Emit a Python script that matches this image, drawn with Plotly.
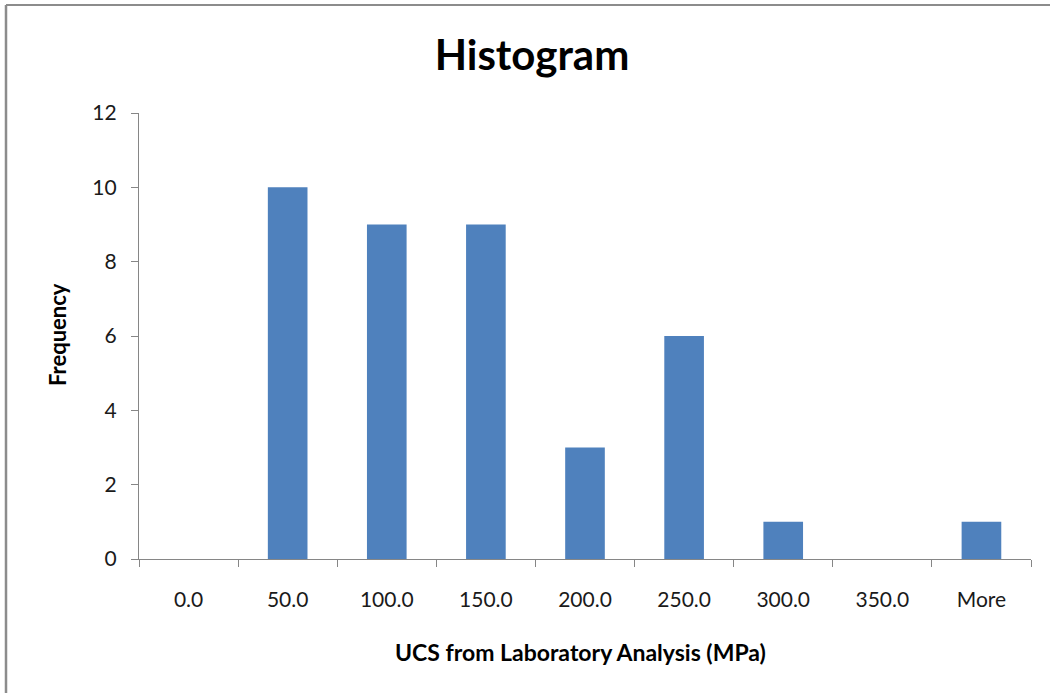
import plotly.graph_objects as go

categories = ["0.0", "50.0", "100.0", "150.0", "200.0", "250.0", "300.0", "350.0", "More"]
frequency = [0, 10, 9, 9, 3, 6, 1, 0, 1]

W, H = 1050, 693
L, R, T, B = 139, 1031, 113, 559
pw, ph = R - L, B - T

def px(x):
    return (x - L) / pw

def py(y):
    return (B - y) / ph

FONT = "Lato"
fig = go.Figure(go.Bar(x=categories, y=frequency, marker=dict(color="#4F81BD", line=dict(width=0)),
                       width=0.40))

fig.update_layout(
    width=W, height=H,
    margin=dict(l=L, r=W - R, t=T, b=H - B, pad=0),
    paper_bgcolor="white", plot_bgcolor="white",
    showlegend=False,
    font=dict(family=FONT, color="#000000"),
    title=dict(text="<b>Histogram</b>", x=532 / W, xanchor="center", xref="container",
               y=1 - 55 / H, yanchor="middle", yref="container",
               font=dict(family=FONT, size=42, color="#000000")),
)
fig.update_xaxes(
    type="category", tickson="boundaries", ticks="outside", ticklen=7, tickwidth=1, tickcolor="#868686",
    showline=True, linecolor="#868686", linewidth=1.3, showgrid=False, zeroline=False,
    tickfont=dict(family=FONT, size=21, color="#1a1a1a"), ticklabelstandoff=22,
    range=[-0.5, 8.5],
)
fig.update_yaxes(
    range=[0, 12], dtick=2, ticks="outside", ticklen=7, tickwidth=1, tickcolor="#868686",
    showline=True, linecolor="#868686", linewidth=1.3, showgrid=False, zeroline=False,
    tickfont=dict(family=FONT, size=21, color="#1a1a1a"), ticklabelstandoff=10,
)

fig.add_annotation(text="<b>UCS from Laboratory Analysis (MPa)</b>", xref="paper", yref="paper",
                   x=px(580), y=py(652), showarrow=False, xanchor="center", yanchor="middle",
                   font=dict(family=FONT, size=23, color="#000000"))
fig.add_annotation(text="<b>Frequency</b>", xref="paper", yref="paper", textangle=-90,
                   x=px(57), y=py(335), showarrow=False, xanchor="center", yanchor="middle",
                   font=dict(family=FONT, size=22, color="#000000"))

# chart-area border (top and left edges visible)
fig.add_shape(type="line", xref="paper", yref="paper", x0=px(6), x1=px(1060), y0=py(5), y1=py(5),
              line=dict(color="#8c8c8c", width=2))
fig.add_shape(type="line", xref="paper", yref="paper", x0=px(6), x1=px(6), y0=py(5), y1=py(700),
              line=dict(color="#8c8c8c", width=2.5))

fig.write_html("out.html", config={"displayModeBar": False},
               post_script="document.body.style.margin='0px';")
